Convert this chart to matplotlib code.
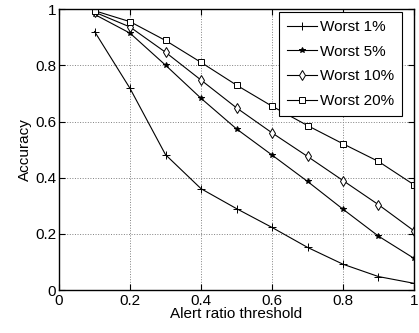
import numpy as np
import matplotlib.pyplot as plt

plt.rcParams['font.family'] = ['Liberation Sans', 'DejaVu Sans']

# alert ratio thresholds and accuracy for each worst-case group
threshold = [0.1, 0.2, 0.3, 0.4, 0.5, 0.6, 0.7, 0.8, 0.9, 1.0]
worst1 = [0.921, 0.718, 0.482, 0.361, 0.290, 0.223, 0.152, 0.092, 0.048, 0.024]
worst5 = [0.982, 0.915, 0.801, 0.683, 0.574, 0.481, 0.387, 0.288, 0.192, 0.113]
worst10 = [0.990, 0.937, 0.847, 0.748, 0.649, 0.560, 0.476, 0.390, 0.304, 0.211]
worst20 = [0.995, 0.956, 0.889, 0.811, 0.730, 0.655, 0.586, 0.521, 0.458, 0.375]

labels = ["Worst 1%", "Worst 5%", "Worst 10%", "Worst 20%"]
markers = ["+", "*", "d", "s"]
msizes = [6, 4, 5, 5]

fig = plt.figure(figsize=(4.19, 3.33), dpi=100)
ax = fig.add_axes([0.141, 0.129, 0.847, 0.843])

for y, lab, m, ms in zip([worst1, worst5, worst10, worst20], labels, markers, msizes):
    filled = m in ("+", "*")
    ax.plot(threshold, y, color="black", lw=0.8, marker=m, markersize=ms,
            markerfacecolor="black" if filled else "white",
            markeredgecolor="black", markeredgewidth=0.7, label=lab)

ticks = [0, 0.2, 0.4, 0.6, 0.8, 1]
tick_labels = ["0", "0.2", "0.4", "0.6", "0.8", "1"]
ax.set_xlim(0, 1)
ax.set_ylim(0, 1)
ax.set_xticks(ticks)
ax.set_xticklabels(tick_labels)
ax.set_yticks(ticks)
ax.set_yticklabels(tick_labels)
ax.tick_params(direction="in", top=True, right=True, labelsize=11, length=4)
ax.tick_params(axis="x", pad=3)
ax.tick_params(axis="y", pad=2)
ax.grid(True, ls=":", color="gray", lw=0.7)
for s in ax.spines.values():
    s.set_linewidth(1.0)

ax.set_xlabel("Alert ratio threshold", fontsize=11, labelpad=-1)
ax.set_ylabel("Accuracy", fontsize=11, labelpad=2)

leg = ax.legend(loc="upper right", bbox_to_anchor=(0.966, 0.989), borderaxespad=0,
                fontsize=11, fancybox=False, framealpha=1, edgecolor="black",
                handlelength=2.0, handletextpad=0.2, labelspacing=0.7,
                borderpad=0.5)
leg.get_frame().set_linewidth(0.8)

fig.savefig("out.png", dpi=100)
